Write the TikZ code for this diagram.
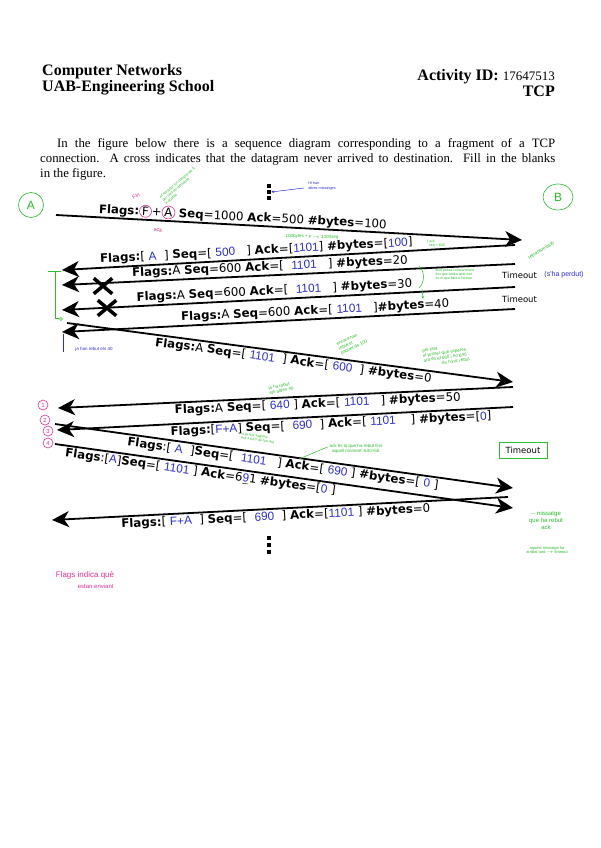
\documentclass[tikz,border=0pt]{standalone}
\usepackage{fontspec}
\setmainfont{Liberation Serif}
\newfontfamily\lblfont{DejaVu Sans}
\newfontfamily\handfont{Liberation Sans}
\usetikzlibrary{arrows.meta,shapes.misc,shapes.geometric}

\definecolor{inkblue}{RGB}{45,45,215}
\definecolor{inkgreen}{RGB}{40,190,40}
\definecolor{inkpink}{RGB}{225,50,150}

\newcommand{\ans}[1]{{\handfont\color{inkblue}#1}}
\newcommand{\ringed}[1]{\tikz[baseline=(r.base)]\node[draw=inkpink, circle, line width=0.6pt, inner sep=0.4pt] (r) {#1};}

\begin{document}
\begin{tikzpicture}[x=1pt, y=-1pt,
  msg/.style={line width=1.8pt, -{Stealth[length=17pt, width=16pt, inset=5pt]}},
  lbl/.style={font=\lblfont\fontsize{11.8}{13}\selectfont, sloped, inner sep=1.5pt},
  note/.style={font=\handfont\fontsize{4.5}{5}\selectfont, text=inkgreen, align=left, inner sep=0pt},
  lost/.style={cross out, draw, line width=3.5pt, minimum width=15pt, minimum height=12pt, inner sep=0pt},
  dot/.style={fill, inner sep=0pt, minimum size=4pt},
  ring/.style={draw=inkpink, circle, line width=0.6pt, inner sep=0pt, minimum size=10pt, text=inkpink, font=\handfont\fontsize{6}{6}\selectfont}]

\fill[white] (0,0) rectangle (601,848);
\useasboundingbox (0,0) rectangle (601,848);

% header
\node[anchor=base west, inner sep=0, font=\bfseries\fontsize{16}{17}\selectfont] (course) at (42,76) {Computer Networks};
\node[anchor=base west, inner sep=0, font=\bfseries\fontsize{16}{17}\selectfont] (school) at (42,92) {UAB-Engineering School};
\node[anchor=base east, inner sep=0, font=\fontsize{16}{17}\selectfont] (actid) at (555,81) {\textbf{Activity ID:} {\fontsize{13}{14}\selectfont 17647513}};
\node[anchor=base east, inner sep=0, font=\bfseries\fontsize{16}{17}\selectfont] (topic) at (555,97) {TCP};

% statement
\node[anchor=base west, inner sep=0, font=\fontsize{12.8}{15}\selectfont] (line1) at (57,147) {\makebox[498pt][s]{In the figure below there is a sequence diagram corresponding to a fragment of a TCP}};
\node[anchor=base west, inner sep=0, font=\fontsize{12.8}{15}\selectfont] (line2) at (40,162) {\makebox[515pt][s]{connection. A cross indicates that the datagram never arrived to destination. Fill in the blanks}};
\node[anchor=base west, inner sep=0, font=\fontsize{12.8}{15}\selectfont] (line3) at (40,177) {in the figure.};

% hosts
\node[draw=inkgreen, circle, line width=0.6pt, minimum size=25pt, text=inkgreen, font=\handfont\fontsize{12}{12}\selectfont] (hostA) at (31,205) {A};
\node[draw=inkgreen, ellipse, line width=0.6pt, minimum width=30pt, minimum height=26pt, text=inkgreen, font=\handfont\fontsize{12}{12}\selectfont] (hostB) at (558,197) {B};

% dots
\node[dot] (d1) at (269,186) {};
\node[dot] (d2) at (269,192) {};
\node[dot] (d3) at (269,198) {};
\node[dot] (d4) at (269,538) {};
\node[dot] (d5) at (269,545) {};
\node[dot] (d6) at (269,552) {};

% segments
\coordinate (a1) at (56,215); \coordinate (b1) at (522,240);
\draw[msg] (a1) -- (b1) node[lbl, pos=0.40, above] {\textbf{Flags:}\ringed{F}+\ringed{A} \textbf{Seq}=1000 \textbf{Ack}=500 \textbf{\#bytes}=100};

\coordinate (b2) at (515,245); \coordinate (a2) at (62,270);
\draw[msg] (b2) -- (a2) node[lbl, pos=0.57, above] {\textbf{Flags:}[\ \ans{A}\ \ ] \textbf{Seq}=[\ \ans{500}\ \ \ ] \textbf{Ack}=[\ans{1101}] \textbf{\#bytes}=[\ans{100}]};

\coordinate (b3) at (515,264); \coordinate (a3) at (62,285);
\draw[msg] (b3) -- (a3) node[lbl, pos=0.54, above] {\textbf{Flags:}A \textbf{Seq}=600 \textbf{Ack}=[\ \ \ans{1101}\ \ \ ] \textbf{\#bytes}=20};

\coordinate (b4) at (515,287); \coordinate (a4) at (62,310);
\draw[msg] (b4) -- (a4) node[lbl, pos=0.53, above] {\textbf{Flags:}A \textbf{Seq}=600 \textbf{Ack}=[\ \ \ans{1101}\ \ \ ] \textbf{\#bytes}=30};

\coordinate (b5) at (515,309); \coordinate (a5) at (62,332);
\draw[msg] (b5) -- (a5) node[lbl, pos=0.44, above] {\textbf{Flags:}A \textbf{Seq}=600 \textbf{Ack}=[\ \ans{1101}\ \ \ ]\textbf{\#bytes}=40};

\node[lost] (x1) at (103,286) {};
\node[lost] (x2) at (107,308) {};

\coordinate (a6) at (67,323); \coordinate (b6) at (513,382);
\draw[msg] (a6) -- (b6) node[lbl, pos=0.51, below] {\textbf{Flags:}A \textbf{Seq}=[\ \ans{1101}\ \ ] \textbf{Ack}=[\ \ans{600}\ \ ] \textbf{\#bytes}=0};

\coordinate (b7) at (513,387); \coordinate (a7) at (58,408);
\draw[msg] (b7) -- (a7) node[lbl, pos=0.43, below] {\textbf{Flags:}A \textbf{Seq}=[\ \ans{640}\ ] \textbf{Ack}=[\ \ans{1101}\ \ \ ] \textbf{\#bytes}=50};

\coordinate (b8) at (513,407); \coordinate (a8) at (57,430);
\draw[msg] (b8) -- (a8) node[lbl, pos=0.40, below] {\textbf{Flags:}[\ans{F+A}] \textbf{Seq}=[\ \ \ans{690}\ \ ] \textbf{Ack}=[\ \ans{1101}\ \ \ \ ] \textbf{\#bytes}=[\ans{0}]};

\coordinate (a9) at (55,424); \coordinate (b9) at (513,488);
\draw[msg] (a9) -- (b9) node[lbl, pos=0.50, below] {\textbf{Flags}:[\ \ans{A}\ \ ]\textbf{Seq}=[\ \ \ans{1101}\ \ \ ] \textbf{Ack}=[\ \ans{690}\ ] \textbf{\#bytes}=[\ \ans{0}\ ]};

\coordinate (a10) at (55,444); \coordinate (b10) at (513,508);
\draw[msg] (a10) -- (b10) node[lbl, pos=0.32, below] {\textbf{Flags}:[\ans{A}]\textbf{Seq}=[\ \ans{1101}\ ] \textbf{Ack}=6\underline{\ans{9}}1 \textbf{\#bytes}=[\ans{0}\ ]};

\coordinate (b11) at (508,497); \coordinate (a11) at (52,520);
\draw[msg] (b11) -- (a11) node[lbl, pos=0.51, below] {\textbf{Flags:}[\ \ans{F+A}\ \ ] \textbf{Seq}=[\ \ \ans{690}\ \ ] \textbf{Ack}=[\ans{1101}\ ] \textbf{\#bytes}=0};

% timeouts
\node[anchor=west, inner sep=0, font=\lblfont\fontsize{8.5}{9}\selectfont] (to1) at (502,275) {Timeout};
\node[anchor=west, inner sep=0, font=\lblfont\fontsize{8.5}{9}\selectfont] (to2) at (502,299) {Timeout};
\node[draw=inkgreen, line width=0.7pt, minimum width=48pt, minimum height=16pt, inner sep=0, font=\lblfont\fontsize{8.5}{9}\selectfont] (to3) at (523,450) {Timeout};

% pen notes
\node[inner sep=0, text=inkpink, font=\handfont\fontsize{5.5}{6}\selectfont, rotate=30] (fin) at (136,196) {Fin};
\node[inner sep=0, text=inkpink, font=\handfont\fontsize{5.5}{6}\selectfont, rotate=-3] (ackp) at (158,230) {ack};
\node[note, rotate=40, font=\handfont\fontsize{3.8}{4.3}\selectfont] (n1) at (180,186) {el servidor ha comprovat A\\ per tant en demanar\\ a acabar};
\node[inner sep=0, text=inkblue, align=left, font=\handfont\fontsize{3.8}{4.3}\selectfont] (n2) at (322,186) {Hi han\\ altres missatges};
\draw[inkblue, line width=0.5pt, -{Stealth[length=3pt]}] (n2.west) ++(-4,2) -- (d2.east);
\node[note, rotate=-2] (n3) at (312,237) {100bytes + F $\rightarrow$ 1000seq};
\node[note, font=\handfont\fontsize{3.5}{4}\selectfont] (n4) at (436,244) {\{ ack\\ \ \ seq = 600};
\node[note, rotate=32, font=\handfont\fontsize{5}{5.5}\selectfont] (n5) at (541,250) {retransmissió};
\node[inner sep=0, text=inkblue, font=\handfont\fontsize{7}{7}\selectfont] (n6) at (564,275) {(s'ha perdut)};
\node[note, font=\handfont\fontsize{3.5}{4}\selectfont] (n7) at (455,275) {això passa constantment\\ fins que arriba amb èxit\\ és el que falla a l'enviar};
\draw[inkgreen, line width=0.5pt] (419,266) .. controls (425,272) and (425,282) .. (419,288);
\draw[inkgreen, line width=0.5pt, -{Stealth[length=3pt]}] (422,289) -- (423,299);
\draw[inkgreen, line width=0.7pt] (48,271) -- (61,271) (55,271) -- (55,318) -- (59,318);
\draw[inkgreen, line width=0.6pt] (61,319) circle (1.5);
\node[inner sep=0, text=inkblue, font=\handfont\fontsize{4.5}{5}\selectfont] (n8) at (94,349) {ja han rebut els 40};
\draw[inkblue, line width=0.5pt] (63,334) -- (63,352);
\node[note, rotate=25] (n9) at (352,343) {encara han\\ rebut el\\ paquet de 100};
\node[note, rotate=8] (n10) at (446,355) {per tant\\ el primer que esperen\\ ara és el 600 i no 640\\ \hspace{18pt}és l'únic rebut};
\node[note, rotate=12] (n11) at (281,388) {ja ha rebut\\ els altres 40};
\node[ring] (c1) at (43,405) {1};
\node[ring] (c2) at (45,420) {2};
\node[ring] (c3) at (48,431) {3};
\node[ring] (c4) at (48,443) {4};
\node[note, rotate=-8, font=\handfont\fontsize{3.5}{4}\selectfont] (n12) at (258,438) {lo ja que segueix\\ ack a 641+49 fins ara};
\node[note] (n13) at (356,449) {ack és lo que ha rebut fins\\ \ \ aquell moment \ 640+50};
\draw[inkgreen, line width=0.5pt] (n13.west) ++(-2,-2) -- (299,459);
\node[note, align=center, font=\handfont\fontsize{6}{7}\selectfont] (n14) at (546,520) {-- missatge\\ que ha rebut\\ ack};
\node[note, align=center, font=\handfont\fontsize{4}{4.5}\selectfont] (n15) at (547,550) {aquest missatge ha\\ arribat tard $\rightarrow$ timeout};
\node[inner sep=0, text=inkpink, align=left, font=\handfont\fontsize{8}{11}\selectfont] (n16) at (85,580) {Flags indica què\\ \hspace{22pt}{\fontsize{6}{6}\selectfont estan enviant}};

\end{tikzpicture}
\end{document}
